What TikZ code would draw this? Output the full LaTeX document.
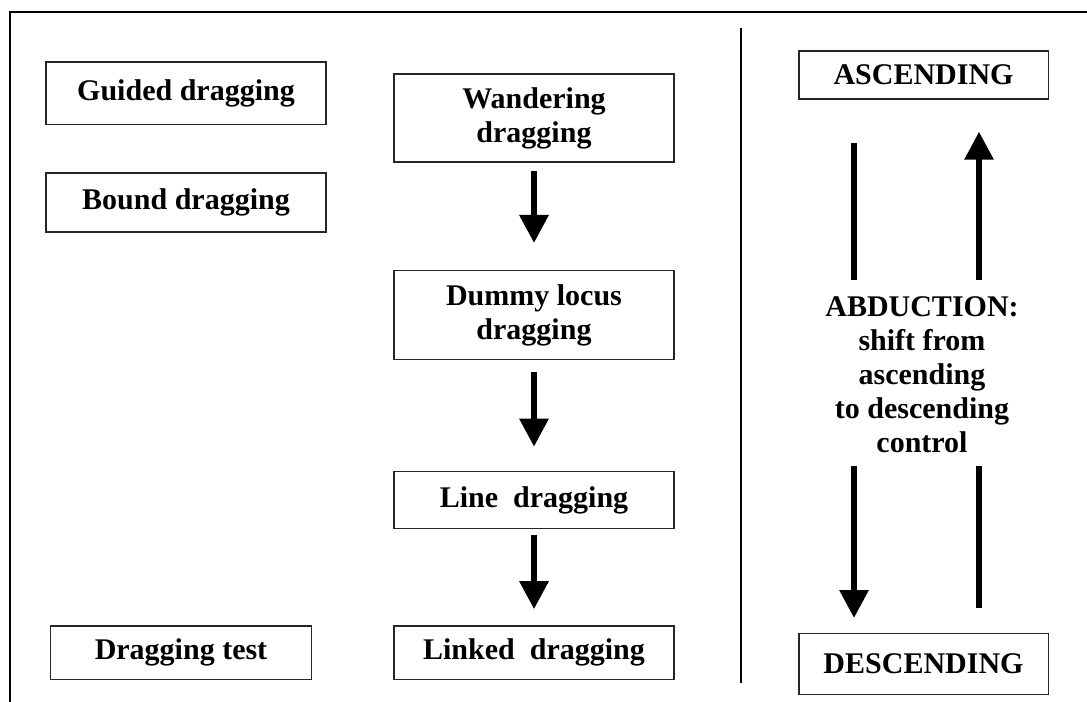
\documentclass[tikz,border=0pt]{standalone}
\usepackage{fontspec}
\setmainfont{Liberation Serif}
\usetikzlibrary{arrows.meta}

\begin{document}
\begin{tikzpicture}[x=0.75pt, y=-0.75pt,
	every node/.style={font=\fontsize{22.5}{25.5}\selectfont\bfseries},
	box/.style={draw=black!85, line width=1pt, minimum width=210pt, inner sep=0pt, align=center},
	bigarrow/.style={line width=4.5pt, -{Triangle[width=21pt,length=21pt]}},
	bar/.style={line width=4.5pt}]
			\useasboundingbox (0,0) rectangle (1087,702);
			% frame and divider
			\draw[line width=1.5pt] (10,702) -- (10,12) -- (1087,12);
			\draw[line width=1.1pt] (741,28) -- (741,683);
			% left column
			\node[box, minimum height=47pt] (guided) at (186,93.5) {Guided dragging};
			\node[box, minimum height=44pt] (bound) at (186,202.5) {Bound dragging};
			\node[box, minimum width=196pt, minimum height=40pt] (test) at (181,652.5) {Dragging test};
			% middle column
			\node[box, minimum height=66pt] (wander) at (534,118) {Wandering\\dragging};
			\node[box, minimum height=67pt] (dummy) at (534,315) {Dummy locus\\dragging};
			\node[box, minimum height=43pt] (line) at (534,500) {Line\ \ dragging};
			\node[box, minimum height=40pt] (linked) at (534,652.5) {Linked\ \ dragging};
			\draw[bigarrow, shorten <=6pt, shorten >=20pt] (wander) -- (dummy);
			\draw[bigarrow, shorten <=9pt, shorten >=18pt] (dummy) -- (line);
			\draw[bigarrow, shorten <=4pt, shorten >=12pt] (line) -- (linked);
			% right column
			\node[box, minimum width=187pt, minimum height=36pt] (asc) at (923.5,75) {ASCENDING};
			\node[box, minimum width=187pt, minimum height=46pt] (desc) at (923.5,664) {DESCENDING};
			\node[align=center] (abd) at (922,375) {ABDUCTION:\\shift from\\ascending\\to descending\\control};
			\coordinate (lt) at (854,143);
			\coordinate (lm) at (854,280);
			\coordinate (lb) at (854,466);
			\coordinate (rb) at (979,608);
			\coordinate (rm) at (979,466);
			\coordinate (rt) at (979,280);
			\draw[bar] (lt) -- (lm);
			\draw[bigarrow, shorten >=11pt] (lb) -- (lb |- desc.north);
			\draw[bar] (rb) -- (rm);
			\draw[bigarrow, shorten >=24pt] (rt) -- (rt |- asc.south);
		\end{tikzpicture}
\end{document}
